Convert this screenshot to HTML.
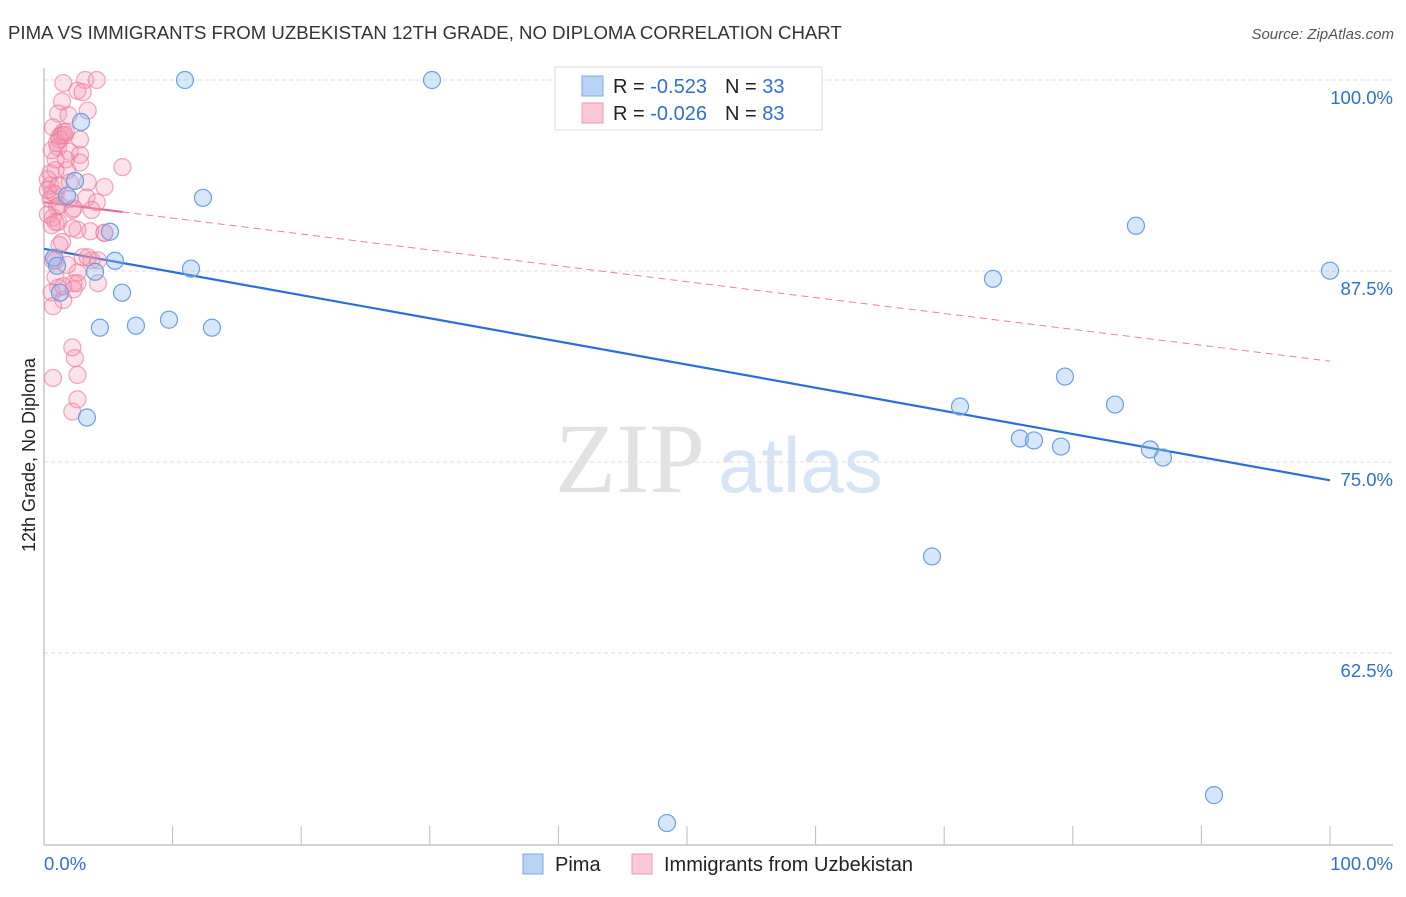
<!DOCTYPE html>
<html><head><meta charset="utf-8"><style>
body{margin:0;background:#fff;font-family:"Liberation Sans",sans-serif}
</style></head><body>
<svg width="1406" height="892" viewBox="0 0 1406 892" xmlns="http://www.w3.org/2000/svg">
<text x="8" y="39" font-size="18.6" fill="#333">PIMA VS IMMIGRANTS FROM UZBEKISTAN 12TH GRADE, NO DIPLOMA CORRELATION CHART</text>
<text x="1394" y="39" font-size="15" fill="#555" font-style="italic" text-anchor="end">Source: ZipAtlas.com</text>
<g id="grid"></g>
<text x="555" y="492" font-size="100" fill="#e2e2e2" font-family="Liberation Serif,serif">ZIP</text>
<text x="718" y="492" font-size="78" fill="#d6e4f5">atlas</text>
<g id="axes"></g>
<g id="lines"></g>
<g id="pts"></g>
<text transform="translate(35,455) rotate(-90)" font-size="18" fill="#222" text-anchor="middle">12th Grade, No Diploma</text>
<g>
<rect x="555" y="67" width="267" height="63" fill="#fff" stroke="#ddd"/>
<rect x="582" y="76" width="21" height="20" fill="#b8d4f5" stroke="#7aa8e6"/>
<rect x="582" y="103" width="21" height="20" fill="#fcc8d6" stroke="#ee98b2"/>
<text x="613" y="93" font-size="20" fill="#222">R = <tspan fill="#2f6fd6">-0.523</tspan><tspan dx="18">N = </tspan><tspan fill="#2f6fd6">33</tspan></text>
<text x="613" y="120" font-size="20" fill="#222">R = <tspan fill="#2f6fd6">-0.026</tspan><tspan dx="18">N = </tspan><tspan fill="#2f6fd6">83</tspan></text>
</g>
<g>
<rect x="523" y="854" width="20" height="20" fill="#b8d4f5" stroke="#7aa8e6"/>
<text x="555" y="871" font-size="20" fill="#222">Pima</text>
<rect x="632" y="854" width="20" height="20" fill="#fcc8d6" stroke="#ee98b2"/>
<text x="664" y="871" font-size="20" fill="#222">Immigrants from Uzbekistan</text>
</g>
</svg>
<script>
const yTicks=[100,87.5,75,62.5];
const yTickLabels=["100.0%","87.5%","75.0%","62.5%"];
const xTickLabels=["0.0%","100.0%"];
const pimaX=[10.96,30.17,2.88,12.36,2.41,1.79,5.13,0.78,1.01,5.52,3.97,11.43,6.07,1.24,4.35,7.15,9.72,13.06,3.34,84.91,73.79,100,79.39,71.23,83.28,75.89,76.98,79.08,86.0,87.01,69.05,90.98,48.44];
const pimaY=[100,100,97.25,92.29,93.4,92.42,90.07,88.37,87.84,88.17,87.45,87.65,86.08,86.08,83.79,83.92,84.31,83.79,77.91,90.46,86.99,87.52,80.59,78.63,78.76,76.54,76.41,76.01,75.82,75.29,68.82,53.2,51.37];
const uzX=[1.5,3.2,4.1,2.6,3.0,1.4,1.1,1.9,0.7,1.5,1.2,1.0,1.6,1.1,2.0,2.8,2.8,6.1,0.9,0.5,1.8,3.4,4.7,0.5,0.7,2.0,3.3,4.1,0.5,1.0,2.2,0.7,0.9,2.6,4.7,1.4,3.0,3.7,0.7,1.8,2.6,0.9,2.3,4.2,1.1,0.6,1.5,0.7,2.2,2.4,0.7,2.6,2.6,2.2,1.2,1.4,1.7,0.6,0.9,0.3,0.9,1.2,0.3,1.1,2.3,3.7,0.3,0.6,1.2,3.4,2.6,4.2,0.9,1.5,2.0,2.8,3.4,4.7,2.3,1.1,2.2,1.7,3.6];
const uzY=[99.8,100,100,99.3,99.2,98.6,97.8,97.7,96.9,96.6,96.3,95.9,96.4,95.6,95.3,95.1,94.6,94.3,94.8,93.9,94.1,93.3,93.0,93.1,92.6,92.2,92.3,92.0,92.2,91.7,91.5,91.0,90.7,90.2,90.0,89.4,88.4,88.2,88.2,87.9,87.4,87.1,86.7,86.7,86.4,86.1,85.6,85.2,82.5,81.8,80.5,80.7,79.1,78.3,96.1,96.4,96.6,95.4,94.1,93.5,92.5,91.8,91.2,90.7,91.6,91.5,92.8,90.5,89.2,88.4,86.7,88.2,88.2,86.5,93.3,96.1,98.0,90.0,86.3,93.1,90.3,94.8,90.1];
const pimaTrend=[88.95,73.8];
const uzTrend=[92.0,81.6];
const uzSolidEnd=6.1;

const NS="http://www.w3.org/2000/svg";
const X0=44,X1=1330,Y100=80,PXPER=191/12.5;
function sx(v){return X0+(X1-X0)*v/100;}
function sy(v){return Y100+(100-v)*PXPER;}
function mk(tag,attrs,parent){const e=document.createElementNS(NS,tag);for(const k in attrs)e.setAttribute(k,attrs[k]);document.getElementById(parent).appendChild(e);return e;}

yTicks.forEach((t,i)=>{
  const l=mk('line',{x1:X0,x2:1393,y1:sy(t),y2:sy(t),stroke:'#dcdcdc','stroke-dasharray':'4,3'},'grid');
  
  
  const tx=mk('text',{x:1393,y:sy(t)+24,'font-size':18.5,fill:'#2f6fd6','text-anchor':'end'},'grid');
  tx.textContent=yTickLabels[i];
  
  
});
let a=mk('line',{x1:X0,x2:X0,y1:68,y2:845,stroke:'#aaa'},'axes');


a=mk('line',{x1:X0,x2:1393,y1:845,y2:845,stroke:'#aaa'},'axes');


for(let i=1;i<=10;i++){
  const t=mk('line',{x1:sx(i*10),x2:sx(i*10),y1:826,y2:845,stroke:'#bbb'},'axes');
  
  
}
let xl=mk('text',{x:44,y:870,'font-size':18.5,fill:'#2f6fd6'},'axes');xl.textContent=xTickLabels[0];


xl=mk('text',{x:1393,y:870,'font-size':18.5,fill:'#2f6fd6','text-anchor':'end'},'axes');xl.textContent=xTickLabels[1];



uzX.forEach((x,i)=>{
  const c=mk('circle',{cx:sx(x),cy:sy(uzY[i]),r:8.5,fill:'rgba(245,150,180,0.28)',stroke:'rgba(235,120,155,0.65)','stroke-width':1.2},'pts');
  
  
});
pimaX.forEach((x,i)=>{
  const c=mk('circle',{cx:sx(x),cy:sy(pimaY[i]),r:8.5,fill:'rgba(140,185,240,0.35)',stroke:'#6a9fe0','stroke-width':1.2},'pts');
  
  
});
function uzAt(x){return uzTrend[0]+(uzTrend[1]-uzTrend[0])*x/100;}
let ln=mk('line',{x1:sx(0),y1:sy(pimaTrend[0]),x2:sx(100),y2:sy(pimaTrend[1]),stroke:'#2a6fd4','stroke-width':2.2},'lines');


ln=mk('line',{x1:sx(uzSolidEnd),y1:sy(uzAt(uzSolidEnd)),x2:sx(100),y2:sy(uzTrend[1]),stroke:'#e87fa0','stroke-width':1,'stroke-dasharray':'7,5'},'lines');


ln=mk('line',{x1:sx(0),y1:sy(uzTrend[0]),x2:sx(uzSolidEnd),y2:sy(uzAt(uzSolidEnd)),stroke:'#e86a92','stroke-width':2.2},'lines');


</script>
</body></html>
